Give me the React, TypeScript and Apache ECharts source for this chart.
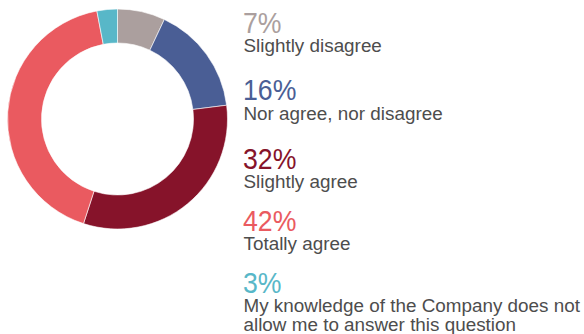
import React, { useEffect, useRef } from "react";
import * as echarts from "echarts";

const categories = [
  "Slightly disagree",
  "Nor agree, nor disagree",
  "Slightly agree",
  "Totally agree",
  "My knowledge of the Company does not\nallow me to answer this question",
];
const values = [7, 16, 32, 42, 3];
const colors = ["#ab9f9e", "#4a5e95", "#86132a", "#ea5a60", "#58b7c8"];

// layout (baselines in px)
const pctBaselines = [33.5, 100.5, 169.5, 231, 293];
const labelBaselines = [52, 119.5, 187.5, 249.5, 312];

const PCT_FONT = 29;
const LABEL_FONT = 18.5;
const LABEL_LINE = 19;
const CENTRAL = 0.3465;

export default function App() {
  const ref = useRef<HTMLDivElement>(null);
  useEffect(() => {
    if (!ref.current) return;
    const chart = echarts.init(ref.current, null, { renderer: "svg" });
    const graphics: any[] = [];
    values.forEach((v, i) => {
      graphics.push({
        type: "text",
        x: 243,
        y: pctBaselines[i] - CENTRAL * PCT_FONT,
        scaleX: 0.92,
        originX: 0,
        style: {
          text: v + "%",
          fill: colors[i],
          font: `${PCT_FONT}px "Liberation Sans", Arial, sans-serif`,
          align: "left",
          verticalAlign: "middle",
        },
      });
      categories[i].split("\n").forEach((line, j) => {
        graphics.push({
          type: "text",
          x: 243.5,
          y: labelBaselines[i] + j * LABEL_LINE - CENTRAL * LABEL_FONT,
          scaleX: 1.02,
          originX: 0,
          style: {
            text: line,
            fill: "#4d4d4d",
            font: `${LABEL_FONT}px "Liberation Sans", Arial, sans-serif`,
            align: "left",
            verticalAlign: "middle",
          },
        });
      });
    });
    chart.setOption({
      animation: false,
      series: [
        {
          type: "pie",
          center: [117.5, 119],
          radius: [76, 110],
          startAngle: 90,
          clockwise: true,
          label: { show: false },
          labelLine: { show: false },
          silent: true,
          itemStyle: { borderColor: "#ffffff", borderWidth: 0.6 },
          data: values.map((v, i) => ({
            value: v,
            name: categories[i],
            itemStyle: { color: colors[i] },
          })),
        },
      ],
      graphic: graphics,
    });
    return () => chart.dispose();
  }, []);
  return (
    <div
      ref={ref}
      style={{ position: "fixed", left: 0, top: 0, width: 584, height: 334, background: "#fff" }}
    />
  );
}
